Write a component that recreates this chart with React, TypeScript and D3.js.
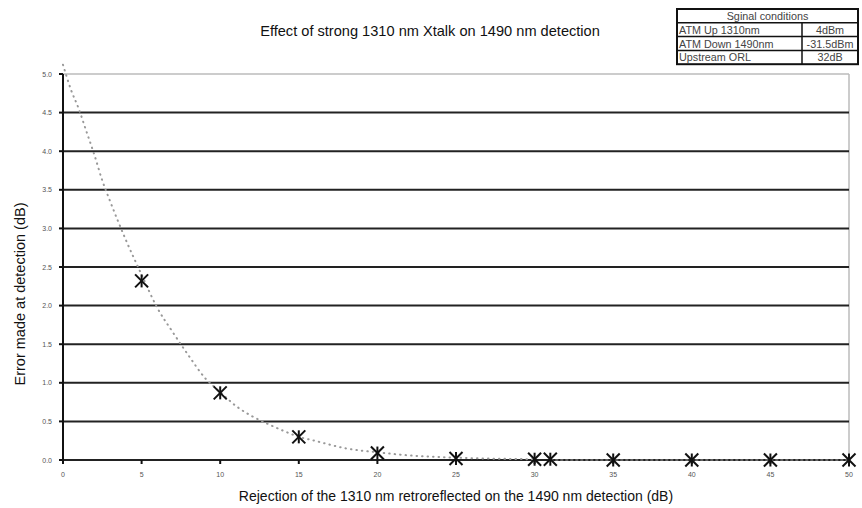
import React from "react";
import * as d3 from "d3";

const measuredX = [5, 10, 15, 20, 25, 30, 31, 35, 40, 45, 50];
const measuredY = [2.32, 0.87, 0.3, 0.09, 0.02, 0.01, 0.01, 0.0, 0.0, 0.0, 0.0];

const trendX = [0, 0.5, 1, 1.5, 2, 2.5, 3, 4, 5, 6, 7, 8, 9, 10, 11, 12, 13, 14, 15, 16, 18, 20, 22, 25, 28, 30];
const trendY = [5.12, 4.8, 4.55, 4.25, 3.95, 3.62, 3.35, 2.85, 2.4, 1.97, 1.65, 1.35, 1.07, 0.88, 0.7, 0.57, 0.47, 0.38, 0.3, 0.25, 0.15, 0.1, 0.06, 0.03, 0.015, 0.01];

const baseX = [31, 50];
const baseY = [0, 0];

const xTicks = [0, 5, 10, 15, 20, 25, 30, 35, 40, 45, 50];
const yTicks = [0, 0.5, 1, 1.5, 2, 2.5, 3, 3.5, 4, 4.5, 5];

const tableRows = [
  ["ATM Up 1310nm", "4dBm"],
  ["ATM Down 1490nm", "-31.5dBm"],
  ["Upstream ORL", "32dB"],
];
const tableHeader = "Sginal conditions";

const title = "Effect of strong 1310 nm Xtalk on 1490 nm detection";
const xTitle = "Rejection of the 1310 nm retroreflected on the 1490 nm detection (dB)";
const yTitle = "Error made at detection (dB)";

const W = 862;
const H = 508;
const left = 63;
const right = 849;
const top = 74;
const bottom = 460;

export default function App() {
  const x = d3.scaleLinear().domain([0, 50]).range([left, right]);
  const y = d3.scaleLinear().domain([0, 5]).range([bottom, top]);

  const trendLine = d3
    .line<number>()
    .x((_, i) => x(trendX[i]))
    .y((_, i) => y(trendY[i]))
    .curve(d3.curveMonotoneX)(trendY);

  const baseLine = d3
    .line<number>()
    .x((_, i) => x(baseX[i]))
    .y((_, i) => y(baseY[i]))(baseY);

  const font = "'Liberation Sans', Arial, sans-serif";
  const tX = 677;
  const tY = 9;
  const tW = 181;
  const rowH = 13.8;
  const colX = 802;

  return (
    <svg
      width={W}
      height={H}
      style={{ position: "absolute", left: 0, top: 0, display: "block", background: "#fff" }}
      fontFamily={font}
    >
      <text x={430} y={36} textAnchor="middle" fontSize={14.6} fill="#111">
        {title}
      </text>

      {/* table */}
      <g>
        <rect x={tX} y={tY} width={tW} height={rowH * 4} fill="#fff" stroke="#111" strokeWidth={2} />
        {[1, 2, 3].map((r) => (
          <line key={r} x1={tX} x2={tX + tW} y1={tY + r * rowH} y2={tY + r * rowH} stroke="#111" strokeWidth={1.5} />
        ))}
        <line x1={colX} x2={colX} y1={tY + rowH} y2={tY + rowH * 4} stroke="#111" strokeWidth={1.5} />
        <text x={tX + tW / 2} y={tY + rowH / 2 + 4} textAnchor="middle" fontSize={10.8} fill="#444">
          {tableHeader}
        </text>
        {tableRows.map((row, i) => (
          <g key={i}>
            <text x={tX + 2} y={tY + (i + 1) * rowH + rowH / 2 + 4} fontSize={10.8} fill="#444">
              {row[0]}
            </text>
            <text
              x={(colX + tX + tW) / 2}
              y={tY + (i + 1) * rowH + rowH / 2 + 4}
              textAnchor="middle"
              fontSize={10.8}
              fill="#444"
            >
              {row[1]}
            </text>
          </g>
        ))}
      </g>

      {/* plot frame top and right */}
      <line x1={left} x2={right} y1={y(5)} y2={y(5)} stroke="#bbb" strokeWidth={1.5} />
      <line x1={right} x2={right} y1={y(5)} y2={y(0)} stroke="#bbb" strokeWidth={1.5} />

      {/* gridlines */}
      {yTicks
        .filter((t) => t > 0 && t < 5)
        .map((t) => (
          <line key={t} x1={left} x2={right} y1={y(t)} y2={y(t)} stroke="#222" strokeWidth={2} />
        ))}

      {/* axes */}
      <line x1={left} x2={right} y1={y(0)} y2={y(0)} stroke="#222" strokeWidth={2} />
      <line x1={left} x2={left} y1={y(5)} y2={y(0)} stroke="#111" strokeWidth={2} />

      {yTicks.map((t) => (
        <g key={t}>
          <line x1={left - 4} x2={left} y1={y(t)} y2={y(t)} stroke="#111" strokeWidth={2} />
          <text x={52} y={y(t) + 2.5} textAnchor="end" fontSize={7} fill="#555">
            {t.toFixed(1)}
          </text>
        </g>
      ))}
      {xTicks.map((t) => (
        <g key={t}>
          <line x1={x(t)} x2={x(t)} y1={y(0)} y2={y(0) + 4} stroke="#111" strokeWidth={2} />
          <text x={x(t)} y={y(0) + 17} textAnchor="middle" fontSize={7} fill="#555">
            {t}
          </text>
        </g>
      ))}

      {/* trend */}
      <path
        d={trendLine || ""}
        fill="none"
        stroke="#999"
        strokeWidth={2}
        strokeDasharray="0.5 5"
        strokeLinecap="round"
      />
      <path d={baseLine || ""} fill="none" stroke="#777" strokeWidth={1.5} strokeDasharray="3 2" />

      {/* markers */}
      {measuredX.map((mx, i) => {
        const cx = x(mx);
        const cy = y(measuredY[i]);
        const s = 6.5;
        return (
          <g key={i} stroke="#111" strokeWidth={2}>
            <line x1={cx - s} x2={cx + s} y1={cy - s} y2={cy + s} />
            <line x1={cx - s} x2={cx + s} y1={cy + s} y2={cy - s} />
            <line x1={cx} x2={cx} y1={cy - s} y2={cy + s} />
          </g>
        );
      })}

      <text x={456} y={501} textAnchor="middle" fontSize={14} fill="#111">
        {xTitle}
      </text>
      <text transform={`translate(25, ${294}) rotate(-90)`} textAnchor="middle" fontSize={14.5} fill="#111">
        {yTitle}
      </text>
    </svg>
  );
}
